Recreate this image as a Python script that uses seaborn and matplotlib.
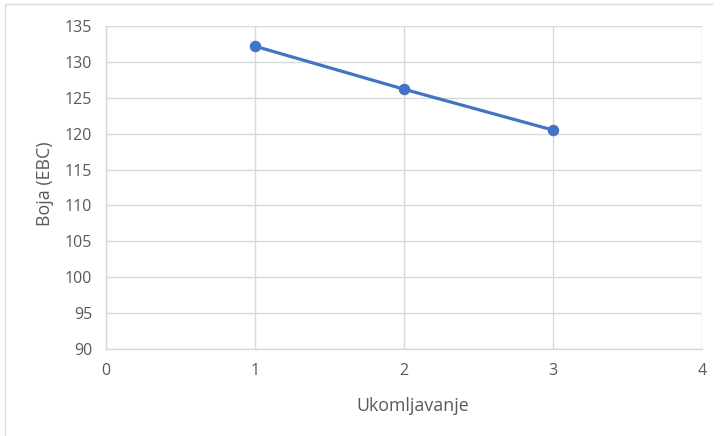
import pandas as pd
import seaborn as sns
import matplotlib.pyplot as plt
from matplotlib.lines import Line2D

# Podaci
ukomljavanje = [1, 2, 3]
boja_ebc = [132.2, 126.2, 120.5]

df = pd.DataFrame({'Ukomljavanje': ukomljavanje, 'Boja (EBC)': boja_ebc})

sns.set_style('white')
plt.rcParams['font.family'] = ['Open Sans', 'DejaVu Sans']

fig = plt.figure(figsize=(7.21, 4.36), dpi=100)
ax = fig.add_axes([0.147, 0.200, 0.827, 0.740])

# okvir grafikona (gornja i lijeva ivica)
fig.lines.append(Line2D([0.007, 0.988], [0.990, 0.990], transform=fig.transFigure,
                        color='#D9D9D9', linewidth=1))
fig.lines.append(Line2D([0.007, 0.007], [0.0, 0.990], transform=fig.transFigure,
                        color='#D9D9D9', linewidth=1))

sns.lineplot(data=df, x='Ukomljavanje', y='Boja (EBC)', ax=ax, color='#4472C4',
             linewidth=2.3, marker='o', markersize=7.5, markeredgecolor='#4472C4')

ax.set_xlim(0, 4)
ax.set_ylim(90, 135)
ax.set_xticks(range(0, 5))
ax.set_yticks(range(90, 136, 5))
ax.grid(True, color='#D9D9D9', linewidth=1)
ax.set_axisbelow(True)
for s in ['top', 'right']:
    ax.spines[s].set_visible(False)
for s in ['left', 'bottom']:
    ax.spines[s].set_color('#D9D9D9')
    ax.spines[s].set_linewidth(1)

ax.tick_params(axis='both', length=0, labelsize=11.5, labelcolor='#595959')
ax.tick_params(axis='x', pad=10)
ax.tick_params(axis='y', pad=10)
ax.set_xlabel('Ukomljavanje', fontsize=12.8, color='#595959')
ax.set_ylabel('Boja (EBC)', fontsize=12.8, color='#595959')
ax.xaxis.set_label_coords(0.515, -0.148)
ax.yaxis.set_label_coords(-0.087, 0.512)

plt.savefig('out.png', dpi=100)
